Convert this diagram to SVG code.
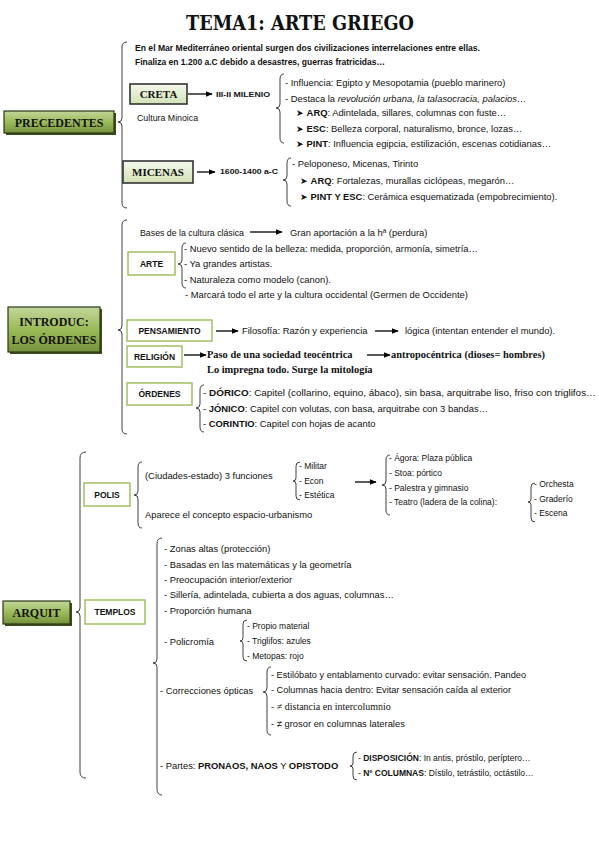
<svg xmlns="http://www.w3.org/2000/svg" width="599" height="848" viewBox="0 0 599 848">
<defs>
<linearGradient id="gDark" x1="0" y1="0" x2="0" y2="1">
<stop offset="0" stop-color="#c3d69b"/><stop offset="0.5" stop-color="#9bbb59"/><stop offset="1" stop-color="#76923c"/>
</linearGradient>
<linearGradient id="gLight" x1="0" y1="0" x2="0" y2="1">
<stop offset="0" stop-color="#f4f8ec"/><stop offset="1" stop-color="#d3e2b6"/>
</linearGradient>
<marker id="ah" viewBox="0 0 10 10" refX="9" refY="5" markerWidth="7" markerHeight="7" orient="auto" markerUnits="userSpaceOnUse">
<path d="M0,1 L10,5 L0,9 Z" fill="#000"/>
</marker>
</defs>
<style>
.t{font-family:"Liberation Sans",Arial,sans-serif;font-size:9.4px;fill:#111}
.sm{font-size:8.5px}
.b{font-weight:bold}
.i{font-style:italic}
.s{font-family:"Liberation Serif","Times New Roman",serif;font-weight:bold;font-size:10.4px;fill:#111}
.bx{font-family:"Liberation Serif","Times New Roman",serif;font-weight:bold;fill:#111;text-anchor:middle}
.bs{font-family:"Liberation Sans",Arial,sans-serif;font-weight:bold;font-size:8.5px;fill:#111;text-anchor:middle}
.dk{fill:url(#gDark);stroke:#2c3a14;stroke-width:1.2}
.sh{fill:#3d4c1e}
.lt{fill:url(#gLight);stroke:#333;stroke-width:1.6}
.wb{fill:#fff;stroke:#9bbb59;stroke-width:1.4}
.br{fill:none;stroke:#404040;stroke-width:1}
.ar{stroke:#000;stroke-width:1.3;marker-end:url(#ah)}
.tl{font-family:"DejaVu Serif","Liberation Serif",serif;font-weight:bold;font-size:21px;fill:#111;text-anchor:middle}
</style>
<rect width="599" height="848" fill="#fff"/>
<text class="tl" x="300" y="30" textLength="228" lengthAdjust="spacingAndGlyphs">TEMA1: ARTE GRIEGO</text>

<g id="connectors">
<path class="br" d="M127 42 Q122 42 122 47 L122 118 Q122 122 118 122 Q122 122 122 126 L122 203 Q122 208 127 208"/>
<path class="br" d="M284 74 Q280 74 280 79 L280 104 Q280 108 276 108 Q280 108 280 112 L280 138 Q280 143 284 143"/>
<path class="br" d="M291 158 Q287 158 287 163 L287 176 Q287 180 283 180 Q287 180 287 184 L287 201 Q287 206 291 206"/>
<path class="br" d="M127 220 Q122 220 122 225 L122 326 Q122 330 118 330 Q122 330 122 334 L122 429 Q122 434 127 434"/>
<path class="br" d="M186 243 Q182 243 182 248 L182 260 Q182 264 178 264 Q182 264 182 268 L182 283 Q182 288 186 288"/>
<path class="br" d="M204 385 Q200 385 200 390 L200 404 Q200 408 196 408 Q200 408 200 412 L200 427 Q200 432 204 432"/>
<path class="br" d="M86 452 Q80 452 80 458 L80 608 Q80 612 76 612 Q80 612 80 616 L80 772 Q80 778 86 778"/>
<path class="br" d="M142 462 Q138 462 138 467 L138 491 Q138 495 134 495 Q138 495 138 499 L138 523 Q138 528 142 528"/>
<path class="br" d="M300 462 Q296 462 296 466 L296 478 Q296 481 293 481 Q296 481 296 484 L296 496 Q296 500 300 500"/>
<path class="br" d="M390 455 Q386 455 386 460 L386 481 Q386 485 382 485 Q386 485 386 489 L386 510 Q386 515 390 515"/>
<path class="br" d="M535 483 Q531 483 531 487 L531 499 Q531 502 528 502 Q531 502 531 505 L531 518 Q531 522 535 522"/>
<path class="br" d="M162 538 Q157 538 157 544 L157 659 Q157 663 153 663 Q157 663 157 667 L157 789 Q157 795 162 795"/>
<path class="br" d="M247 620 Q243 620 243 624 L243 638 Q243 641 240 641 Q243 641 243 644 L243 657 Q243 661 247 661"/>
<path class="br" d="M271 667 Q267 667 267 672 L267 688 Q267 692 263 692 Q267 692 267 696 L267 730 Q267 735 271 735"/>
<path class="br" d="M357 752 Q353 752 353 756 L353 763 Q353 766 350 766 Q353 766 353 769 L353 776 Q353 780 357 780"/>
<line class="ar" x1="188" y1="94" x2="212" y2="94"/>
<line class="ar" x1="197" y1="172" x2="215" y2="172"/>
<line class="ar" x1="250" y1="232" x2="282" y2="232"/>
<line class="ar" x1="216" y1="331" x2="238" y2="331"/>
<line class="ar" x1="375" y1="331" x2="398" y2="331"/>
<line class="ar" x1="184" y1="355" x2="206" y2="355"/>
<line class="ar" x1="367" y1="355" x2="390" y2="355"/>
<line class="ar" x1="355" y1="482" x2="376" y2="482"/>
</g>

<g id="precedentes">
<rect class="sh" x="6" y="113" width="110" height="22"/>
<rect class="dk" x="4" y="111" width="110" height="22"/>
<text class="bx" x="59" y="126.5" font-size="12">PRECEDENTES</text>
</g>
<g id="intro-text">
<text class="t b" x="135" y="51" style="font-size:8.4px" textLength="345" lengthAdjust="spacingAndGlyphs">En el Mar Mediterráneo oriental surgen dos civilizaciones interrelaciones entre ellas.</text>
<text class="t b" x="135" y="65" style="font-size:8.4px" textLength="250" lengthAdjust="spacingAndGlyphs">Finaliza en 1.200 a.C debido a desastres, guerras fratricidas…</text>
</g>
<g id="creta">
<rect class="lt" x="130" y="84" width="57" height="20"/>
<text class="bx" x="158.5" y="98" font-size="11">CRETA</text>
<text class="t b" x="216" y="97" style="font-size:8px" textLength="54" lengthAdjust="spacingAndGlyphs">III-II MILENIO</text>
<text class="t" x="137" y="121" style="font-size:8.8px">Cultura Minoica</text>
<text class="t" x="285" y="86">- Influencia: Egipto y Mesopotamia (pueblo marinero)</text>
<text class="t" x="285" y="102">- Destaca la <tspan class="i">revolución urbana, la talasocracia, palacios…</tspan></text>
<text class="t" x="296" y="116">➤ <tspan class="b">ARQ</tspan>: Adintelada, sillares, columnas con fuste…</text>
<text class="t" x="296" y="132">➤ <tspan class="b">ESC</tspan>: Belleza corporal, naturalismo, bronce, lozas…</text>
<text class="t" x="296" y="147">➤ <tspan class="b">PINT</tspan>: Influencia egipcia, estilización, escenas cotidianas…</text>
</g>
<g id="micenas">
<rect class="lt" x="123" y="161" width="70" height="22"/>
<text class="bx" x="158" y="176" font-size="11">MICENAS</text>
<text class="t b" x="220" y="174" style="font-size:8px" textLength="58" lengthAdjust="spacingAndGlyphs">1600-1400 a-C</text>
<text class="t" x="292" y="167">- Peloponeso, Micenas, Tirinto</text>
<text class="t" x="300" y="184">➤  <tspan class="b">ARQ</tspan>: Fortalezas, murallas ciclópeas, megarón…</text>
<text class="t" x="300" y="200">➤  <tspan class="b">PINT Y ESC</tspan>: Cerámica esquematizada (empobrecimiento).</text>
</g>

<g id="introduc">
<rect class="sh" x="10" y="309" width="92" height="45"/>
<rect class="dk" x="8" y="307" width="92" height="45"/>
<text class="bx" x="54" y="326" font-size="12">INTRODUC:</text>
<text class="bx" x="54" y="344" font-size="12">LOS ÓRDENES</text>
<text class="t" x="140" y="236" textLength="104" lengthAdjust="spacingAndGlyphs">Bases de la cultura clásica</text>
<text class="t" x="290" y="236">Gran aportación a la hª (perdura)</text>
</g>
<g id="arte">
<rect class="wb" x="128" y="252" width="47" height="23"/>
<text class="bs" x="151.5" y="266.5">ARTE</text>
<text class="t" x="184" y="252">- Nuevo sentido de la belleza: medida, proporción, armonía, simetría…</text>
<text class="t" x="184" y="267">- Ya grandes artistas.</text>
<text class="t" x="184" y="283">- Naturaleza como modelo (canon).</text>
<text class="t" x="185" y="298">- Marcará todo el arte y la cultura occidental (Germen de Occidente)</text>
</g>
<g id="pensamiento">
<rect class="wb" x="127" y="320" width="85" height="21"/>
<text class="bs" x="169.5" y="333.5">PENSAMIENTO</text>
<text class="t" x="242" y="334">Filosofía: Razón y experiencia</text>
<text class="t" x="405" y="334">lógica (intentan entender el mundo).</text>
</g>
<g id="religion">
<rect class="wb" x="127" y="346" width="55" height="21"/>
<text class="bs" x="154.5" y="359.5">RELIGIÓN</text>
<text class="s" x="207" y="358">Paso de una sociedad teocéntrica</text>
<text class="s" x="391" y="358">antropocéntrica (dioses= hombres)</text>
<text class="s" x="207" y="373">Lo impregna todo. Surge la mitología</text>
</g>
<g id="ordenes">
<rect class="wb" x="127" y="383" width="65" height="22"/>
<text class="bs" x="159.5" y="397">ÓRDENES</text>
<text class="t" x="203" y="396" textLength="393" lengthAdjust="spacingAndGlyphs">- <tspan class="b">DÓRICO</tspan>: Capitel (collarino, equino, ábaco), sin basa, arquitrabe liso, friso con triglifos…</text>
<text class="t" x="203" y="412">- <tspan class="b">JÓNICO</tspan>: Capitel con volutas, con basa, arquitrabe con 3 bandas…</text>
<text class="t" x="203" y="427">- <tspan class="b">CORINTIO</tspan>: Capitel con hojas de acanto</text>
</g>

<g id="arquit">
<rect class="sh" x="5" y="603" width="67" height="23"/>
<rect class="dk" x="3" y="601" width="67" height="23"/>
<text class="bx" x="36.5" y="616.5" font-size="12">ARQUIT</text>
</g>
<g id="polis">
<rect class="wb" x="84" y="483" width="46" height="23"/>
<text class="bs" x="107" y="497.5">POLIS</text>
<text class="t" x="145" y="479">(Ciudades-estado) 3 funciones</text>
<text class="t sm" x="299" y="469">- Militar</text>
<text class="t sm" x="299" y="484">- Econ</text>
<text class="t sm" x="299" y="498">- Estética</text>
<text class="t sm" x="389" y="461">- Ágora: Plaza pública</text>
<text class="t sm" x="389" y="476">- Stoa: pórtico</text>
<text class="t sm" x="389" y="491">- Palestra y gimnasio</text>
<text class="t sm" x="389" y="505">- Teatro (ladera de la colina):</text>
<text class="t sm" x="534" y="487">- Orchesta</text>
<text class="t sm" x="534" y="502">- Graderío</text>
<text class="t sm" x="534" y="516">- Escena</text>
<text class="t" x="145" y="518">Aparece el concepto espacio-urbanismo</text>
</g>
<g id="templos">
<rect class="wb" x="85" y="600" width="60" height="24"/>
<text class="bs" x="115" y="615">TEMPLOS</text>
<text class="t" x="164" y="552">- Zonas altas (protección)</text>
<text class="t" x="164" y="568">- Basadas en las matemáticas y la geometría</text>
<text class="t" x="164" y="583">- Preocupación interior/exterior</text>
<text class="t" x="164" y="598">- Sillería, adintelada, cubierta a dos aguas, columnas…</text>
<text class="t" x="164" y="614">- Proporción humana</text>
<text class="t" x="164" y="645">- Policromía</text>
<text class="t sm" x="247" y="629">- Propio material</text>
<text class="t sm" x="247" y="644">- Triglifos: azules</text>
<text class="t sm" x="247" y="659">- Metopas: rojo</text>
<text class="t" x="160" y="694">- Correcciones ópticas</text>
<text class="t sm" x="271" y="678" textLength="255" lengthAdjust="spacingAndGlyphs">- Estilóbato y entablamento curvado: evitar sensación. Pandeo</text>
<text class="t sm" x="271" y="693" textLength="240" lengthAdjust="spacingAndGlyphs">- Columnas hacia dentro: Evitar sensación caída al exterior</text>
<text class="t" x="271" y="710">- <tspan font-family="Liberation Serif, serif" font-size="10">≠ distancia en intercolumnio</tspan></text>
<text class="t" x="271" y="727">- ≠  grosor en columnas laterales</text>
<text class="t" x="160" y="769">- Partes: <tspan class="b">PRONAOS, NAOS</tspan> Y <tspan class="b">OPISTODO</tspan></text>
<text class="t sm" x="358" y="761">- <tspan class="b">DISPOSICIÓN</tspan>: In antis, próstilo, períptero…</text>
<text class="t sm" x="358" y="776">- <tspan class="b">Nº COLUMNAS</tspan>: Dístilo, tetrástilo, octástilo…</text>
</g>
</svg>
